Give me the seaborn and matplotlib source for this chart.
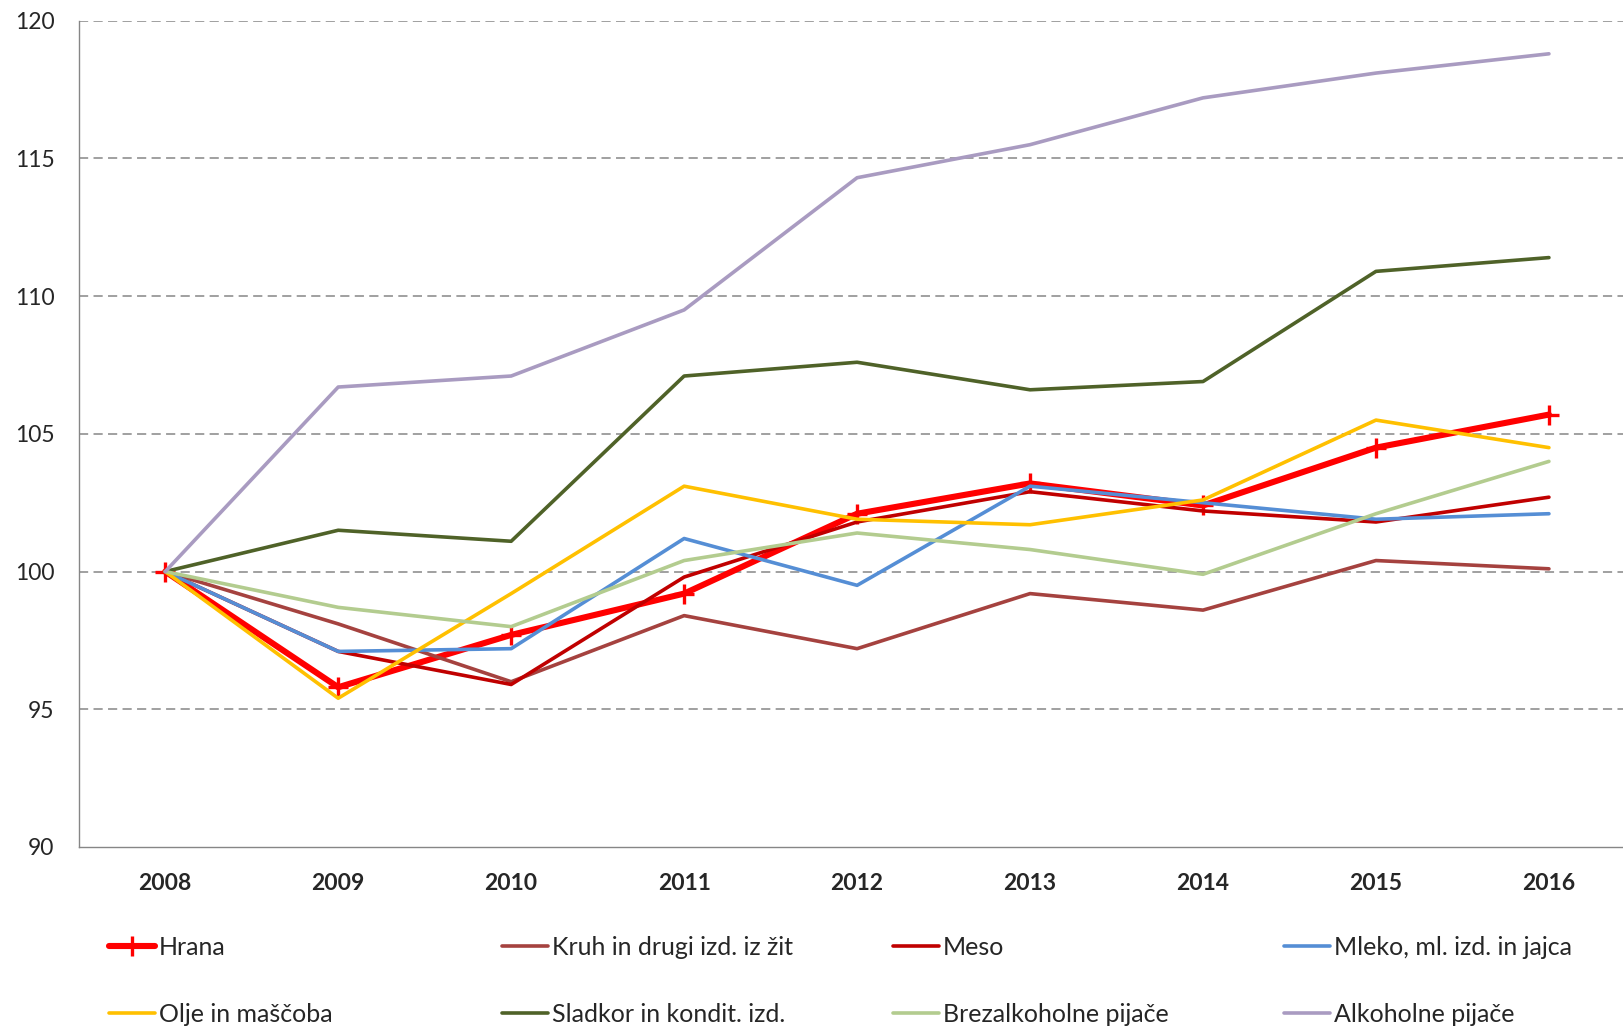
import pandas as pd
import seaborn as sns
import matplotlib.pyplot as plt

years = ["2008", "2009", "2010", "2011", "2012", "2013", "2014", "2015", "2016"]

hrana = [100, 95.8, 97.7, 99.2, 102.1, 103.2, 102.4, 104.5, 105.7]
kruh = [100, 98.1, 96.0, 98.4, 97.2, 99.2, 98.6, 100.4, 100.1]
meso = [100, 97.1, 95.9, 99.8, 101.8, 102.9, 102.2, 101.8, 102.7]
mleko = [100, 97.1, 97.2, 101.2, 99.5, 103.1, 102.5, 101.9, 102.1]
olje = [100, 95.4, 99.2, 103.1, 101.9, 101.7, 102.6, 105.5, 104.5]
sladkor = [100, 101.5, 101.1, 107.1, 107.6, 106.6, 106.9, 110.9, 111.4]
brezalk = [100, 98.7, 98.0, 100.4, 101.4, 100.8, 99.9, 102.1, 104.0]
alkohol = [100, 106.7, 107.1, 109.5, 114.3, 115.5, 117.2, 118.1, 118.8]

series = [
    ("Hrana", hrana, "#FF0000"),
    ("Kruh in drugi izd. iz žit", kruh, "#A5423F"),
    ("Meso", meso, "#C00000"),
    ("Mleko, ml. izd. in jajca", mleko, "#558ED5"),
    ("Olje in maščoba", olje, "#FFC000"),
    ("Sladkor in kondit. izd.", sladkor, "#4F6228"),
    ("Brezalkoholne pijače", brezalk, "#B3CC8F"),
    ("Alkoholne pijače", alkohol, "#A99BC1"),
]

sns.set_style("white")
plt.rcParams["font.family"] = ["Lato", "DejaVu Sans"]

fig = plt.figure(figsize=(16.24, 10.27), dpi=100)
ax = fig.add_axes([0.0485, 0.1753, 0.9515, 0.8045])

x = list(range(len(years)))
for name, vals, col in series:
    df = pd.DataFrame({"x": x, "y": vals})
    if name == "Hrana":
        sns.lineplot(data=df, x="x", y="y", ax=ax, color=col, linewidth=4.4,
                     marker="+", markersize=14, markeredgewidth=2.4,
                     markeredgecolor=col, label=name, zorder=3)
    else:
        sns.lineplot(data=df, x="x", y="y", ax=ax, color=col, linewidth=2.6,
                     label=name, zorder=3)

ax.set_xlim(-0.5, 8.434)
ax.set_ylim(90, 120)
ax.set_yticks([90, 95, 100, 105, 110, 115, 120])
ax.set_yticklabels(["90", "95", "100", "105", "110", "115", "120"],
                   fontsize=16.5)
ax.set_xticks(x)
ax.set_xticklabels(years, fontsize=16.5, fontweight="bold")
ax.set_xticks([i - 0.5 for i in range(9)], minor=True)
ax.tick_params(axis="x", which="major", length=0, pad=18.5)
ax.tick_params(axis="x", which="minor", length=7, width=1, color="#868686",
               direction="out")
ax.tick_params(axis="y", length=7, width=1, color="#868686",
               direction="inout", pad=14)
ax.set_xlabel("")
ax.set_ylabel("")

for yv in [95, 100, 105, 110, 115, 120]:
    ax.axhline(yv, color="#868686", linewidth=1.1, linestyle=(0, (6, 3.5)),
               zorder=1)

for s in ["top", "right"]:
    ax.spines[s].set_visible(False)
for s in ["left", "bottom"]:
    ax.spines[s].set_color("#868686")
    ax.spines[s].set_linewidth(1.0)

handles, labels = ax.get_legend_handles_labels()
ax.get_legend().remove()

col_x = [0.0671, 0.3091, 0.5499, 0.7906]
for i, cx in enumerate(col_x):
    hs = [handles[i], handles[i + 4]]
    ls = [labels[i], labels[i + 4]]
    fig.legend(hs, ls, loc="center left", bbox_to_anchor=(cx, 0.0448),
               frameon=False, fontsize=18, handlelength=1.84,
               handletextpad=0.15, labelspacing=1.78, borderpad=0,
               borderaxespad=0)

fig.savefig("out.png", dpi=100)
